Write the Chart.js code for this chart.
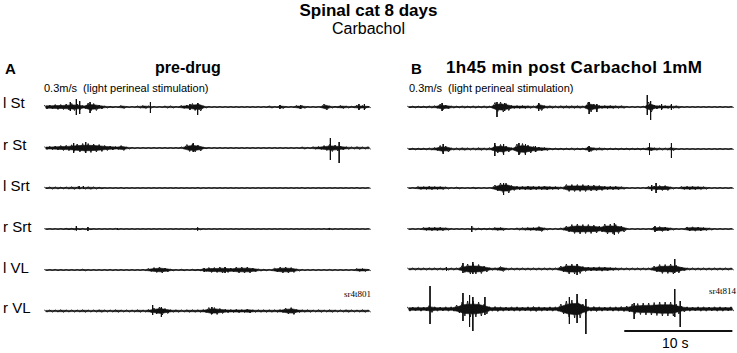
<!DOCTYPE html>
<html>
<head>
<meta charset="utf-8">
<script src="https://cdn.jsdelivr.net/npm/chart.js@4.4.0/dist/chart.umd.min.js"></script>
<style>
  body { margin: 0; background: #fff; width: 737px; height: 353px; position: relative; overflow: hidden;
         font-family: "Liberation Sans", Arial, sans-serif; color: #000; }
  .t { position: absolute; white-space: pre; line-height: 1; }
  .b { font-weight: bold; }
  canvas { position: absolute; }
</style>
</head>
<body>
<div class="t b" style="left:0;width:737px;text-align:center;top:2px;font-size:17px">Spinal cat 8 days</div>
<div class="t" style="left:0;width:737px;text-align:center;top:21px;font-size:16px">Carbachol</div>
<div class="t b" style="left:5px;top:61px;font-size:15px">A</div>
<div class="t b" style="left:155px;top:60px;font-size:16px">pre-drug</div>
<div class="t b" style="left:411px;top:61px;font-size:15px">B</div>
<div class="t b" style="left:446px;top:59px;font-size:17px;letter-spacing:0.4px">1h45 min post Carbachol 1mM</div>
<div class="t" style="left:44px;top:83px;font-size:11px">0.3m/s  (light perineal stimulation)</div>
<div class="t" style="left:409px;top:83px;font-size:11px">0.3m/s  (light perineal stimulation)</div>
<div class="t" style="left:344px;top:290px;font-size:9px;font-family:'Liberation Serif',serif">sr4t801</div>
<div class="t" style="left:709px;top:287px;font-size:9px;font-family:'Liberation Serif',serif">sr4t814</div>
<div class="t" style="left:662px;top:336px;font-size:14px">10 s</div>
<div id="labels"></div>
<canvas id="chartA" width="327" height="265" style="left:44px;top:88px"></canvas>
<canvas id="chartB" width="327" height="265" style="left:407px;top:88px"></canvas>
<script>
// channel names, top to bottom
const channels = ['l St', 'r St', 'l Srt', 'r Srt', 'l VL', 'r VL'];

// EMG envelope, half-height per 0.5 s bin (30 s per trace)
// panel A: pre-drug
const lStA = [2,2,2.5,2.5,3,3.5,3,1.5,4,3.5, 2,1,0.7,0.5,1.5,0.5,0.5,1,1.5,1, 0.5,0.5,1,1,0.5,1.5,2,3.5,4,1,
  0.5,0.5,0.5,0.5,0.5,0.5,0.5,0.5,0.5,0.5, 0.5,1,0.5,1.5,0.5,0.5,1.5,1.2,0.5,0.5, 0.5,3,1,0.7,1.5,1,0.7,1.8,1.5,0.7];
const rStA = [1.5,1.7,2,2.5,2.7,3.2,4,4.5,4.5,4, 3.5,2.5,2,1.5,2.5,1,0.6,0.5,0.5,0.5, 0.5,0.5,0.5,0.5,0.5,1,3.5,4,3,0.7,
  0.5,0.5,0.5,0.5,0.5,0.5,0.5,0.5,0.5,0.5, 0.5,0.5,0.5,0.5,0.5,0.5,0.5,1,0.6,1.2, 1.5,2.5,3.5,3,2,1.3,1,1.3,1,1.2];
const lSrtA = [0.8,1,1,0.8,1,1.2,1,1,1.2,1, 0.8,0.4,0.4,0.4,0.6,0.4,0.4,0.4,0.4,0.4, 0.4,0.4,0.4,0.4,0.4,0.4,0.4,0.4,0.6,0.4,
  0.4,0.4,0.4,0.4,0.4,0.4,0.4,0.4,0.4,0.4, 0.4,0.4,0.4,0.4,0.4,0.4,0.4,0.6,0.4,0.4, 0.4,0.4,0.4,0.4,0.4,0.4,0.4,0.6,0.4,0.4];
const rSrtA = [0.4,0.4,0.4,0.5,0.7,0.7,0.7,0.6,0.7,0.4, 0.4,0.4,0.4,0.6,0.4,0.4,0.4,0.4,0.4,0.4, 0.4,0.4,0.4,0.4,0.4,0.4,0.4,0.4,0.8,0.4,
  0.4,0.4,0.4,0.4,0.4,0.4,0.4,0.4,0.4,0.4, 0.4,0.4,0.4,0.4,0.4,0.4,0.4,0.4,0.4,0.4, 0.4,0.4,0.6,0.4,0.4,0.4,0.4,0.4,0.4,0.4];
const lVLA = [0.5,0.5,0.6,0.5,0.5,0.5,0.5,0.8,0.5,0.5, 0.5,0.5,0.6,0.5,0.5,0.5,0.5,0.5,0.6,1.5, 2.5,3,2,0.8,0.5,0.7,0.5,0.7,0.7,1.5,
  2.5,2.5,3,2.5,2,3,3,3,2,1, 0.7,0.6,2,3,3,2.5,1,0.6,0.5,0.6, 0.5,0.5,0.6,0.5,0.5,0.5,0.5,1.5,1.5,0.7];
const rVLA = [1,1,1,1.2,1,1,1,1.2,1,1, 1.2,1,1,1.2,1,1,1,1.2,1,1.5, 3,4,2.5,1.2,1.2,1,1.2,1.2,1.2,1.5,
  3.5,3.5,2.5,1.8,1.5,1.8,1.5,2,1.2,1.2, 1.2,1.2,1.2,1.5,3,3.5,1.5,1.2,1.2,1, 1.2,1,1.2,1,1,1.2,1,1,1.2,1];

// panel B: 1h45 min post Carbachol
const lStB = [0.8,0.8,0.8,0.8,1,1.2,3,2,1,0.8, 1,0.8,1,0.8,1,0.8,4.5,5,3.5,1.5, 1.5,1.5,1.2,1,3.5,1.2,1.2,1,1.2,1.2,
  1.2,1.2,1,5,3,1.5,1.5,1.5,1.2,1.2, 0.6,0.6,0.6,0.8,5,2,1.5,1.5,1.2,1.2, 0.5,0.5,0.5,0.5,0.5,0.5,0.5,0.5,0.5,0.5];
const rStB = [0.8,0.8,0.8,0.8,1,1.5,3.5,3,1,1, 1.2,1,1,1.2,1,1.2,4,4.5,3,1.2, 5,5.5,4,2.5,2,1.5,0.8,0.8,0.8,0.8,
  1,0.8,0.8,2.5,1.2,1.2,0.8,0.8,0.8,0.8, 0.8,0.8,0.8,0.8,2,1.2,1,1,1.5,0.6, 0.5,0.5,0.5,0.5,0.5,0.5,0.5,0.5,0.5,0.5];
const lSrtB = [0.5,0.5,1.5,1.5,1.8,1.5,1.5,1,0.5,0.8, 0.5,0.5,0.8,0.5,0.5,0.5,3,5,5,2.5, 1.8,1.8,2,1.8,1.8,2,1.5,1.5,1,3.5,
  3.5,3.5,3.5,3,3,2.5,1.8,1.8,1.8,1.2, 0.5,0.5,0.5,0.5,1.5,2,2.5,2.5,1,0.5, 1.5,1.8,1.8,1.5,1.2,0.5,0.5,0.5,0.5,0.5];
const rSrtB = [0.5,0.5,0.5,1.5,1.8,1.8,1.8,1.2,0.5,0.5, 0.5,0.5,1,0.8,0.8,0.8,1.5,1.5,0.5,0.5, 1,1.2,1.5,1.5,2.5,1,0.6,0.6,1,3,
  4.5,5,4.5,4.5,4,3,5,5,4.5,3, 0.5,0.5,0.5,0.5,0.5,2,2.5,2,1,0.5, 0.5,2,2.2,2,1.5,1,0.5,0.5,0.5,0.5];
const lVLB = [1,1,1,1,1,1,1,1,1,1, 3.5,5,5,4.5,3,1.2,1.2,2.5,1,1, 1,1,1,1,1,1,1,1,3,5,
  5,4.5,2.5,2,2,2.2,2,1.5,1.2,1, 1,1,1,1,1,3,4.5,4.5,5,4, 2,1,1,1,1,1,1,1,1,1];
const rVLB = [2.2,2,2.2,2,3.5,2.2,2,2.2,2.2,4, 7,8,8,7,5,2.2,2.5,2.2,2,2.2, 2.2,2,2.2,2.5,2.2,2,2.2,2.2,5,8,
  9,9,5,2.2,2.5,2.2,2,2.2,2.2,2.5, 3,5,5.5,6,6,6.5,7,7,7,5, 3,2.2,2,2.2,2.2,2,2.2,2.2,2,2.2];

// single large spikes: [time s, up, down]
const spkLStA = [[2.5,5,4],[3.05,8,8],[3.35,6,7],[4.3,5,6],[9.8,5,6],[13.4,3,3],[14.1,4,8],[21.6,2,2],[23.5,2,2],[28.8,3,3],[29.3,3,3]];
const spkRStA = [[2.8,5,5],[3.9,6,5],[13.7,5,4],[26.2,10,12],[27,6,15]];
const spkLSrtA = [[3.3,2,1],[3.7,2,1]];
const spkRSrtA = [[3.05,3,1.5],[4.1,2,2],[6.8,1,1],[14.1,1.5,1.5],[26.1,1,1]];
const spkLVLA = [[14.7,2,2],[16.6,3,3]];
const spkRVLA = [[10,6,4],[10.8,4,6],[15.4,4,3]];
const spkLStB = [[3.3,4,4],[8.3,5,10],[9,4,4],[12.1,4,4],[16.7,5,7],[17.4,3,5],[22,12,8],[22.3,6,13],[23.3,3,3],[24.2,3,3]];
const spkRStB = [[3.4,5,5],[8.1,6,7],[8.9,5,6],[10.3,6,6],[10.9,5,6],[11.8,3,3],[16.7,3,3],[22.2,6,6],[24.2,6,9]];
const spkLSrtB = [[8.9,5,7],[22.4,3,3],[22.8,5,5]];
const spkRSrtB = [[6,3,3],[19,6,6],[22.7,3,3]];
const spkLVLB = [[3.7,2,2],[5.2,6,4],[6.1,7,5],[15.6,5,6],[24.5,10,4]];
const spkRVLB = [[2.2,23,15],[5.2,16,12],[5.8,14,18],[6.1,12,22],[7.2,12,6],[14.9,12,15],[15.6,15,14],[16.4,10,25],[20.8,6,10],[24.5,20,8],[25,8,18]];

// 10 s scale bar (panel B)
const scaleBar = [19.9, 29.75];

const BIN = 0.5;
const CORE = 0.6; // share of the envelope drawn solid; the rest shows as ragged zigzag
const laneA = [-19, -60, -100, -141, -182, -223];
const laneB = [-19, -61, -100, -141, -181, -221];
const labelY = [95, 137, 178, 219, 260, 300];

channels.forEach((name, i) => {
  const d = document.createElement('div');
  d.className = 't';
  d.style.cssText = 'left:3px;top:' + labelY[i] + 'px;font-size:15px';
  d.textContent = name;
  document.getElementById('labels').appendChild(d);
});

// zigzag: top of each bin, then bottom a quarter-bin later
function zigzag(amps, base) {
  const pts = [];
  amps.forEach((a, i) => {
    pts.push({ x: i * BIN + 0.125, y: base + a });
    pts.push({ x: i * BIN + 0.375, y: base - a });
  });
  return pts;
}

function envelope(amps, base, sign) {
  return amps.map((a, i) => ({ x: i * BIN + BIN / 2, y: base + sign * a * CORE }));
}

function spikes(list, base) {
  const pts = [];
  list.forEach(([t, up, dn]) => {
    pts.push({ x: t, y: base + up }, { x: t, y: base - dn }, { x: t, y: null });
  });
  return pts;
}

function makeChart(id, envs, spks, lanes, extra) {
  const datasets = [];
  envs.forEach((amps, i) => {
    datasets.push({ data: envelope(amps, lanes[i], 1), borderWidth: 0.6, fill: false });
    datasets.push({ data: envelope(amps, lanes[i], -1), borderWidth: 0.6, fill: '-1', backgroundColor: '#111' });
    datasets.push({ data: zigzag(amps, lanes[i]), borderWidth: 0.9, fill: false });
    datasets.push({ data: spikes(spks[i], lanes[i]), borderWidth: 1, fill: false });
  });
  (extra || []).forEach(ds => datasets.push(ds));
  datasets.forEach(ds => Object.assign(ds, {
    borderColor: '#111', pointRadius: 0, tension: 0, spanGaps: false,
    borderJoinStyle: 'bevel', clip: 6
  }, ds));
  new Chart(document.getElementById(id), {
    type: 'line',
    data: { datasets },
    options: {
      responsive: false,
      animation: false,
      events: [],
      layout: { padding: 0 },
      plugins: { legend: { display: false }, tooltip: { enabled: false } },
      scales: {
        x: { type: 'linear', min: 0.1, max: 29.9, display: false },
        y: { min: -265, max: 0, display: false }
      }
    }
  });
}

makeChart('chartA', [lStA, rStA, lSrtA, rSrtA, lVLA, rVLA],
  [spkLStA, spkRStA, spkLSrtA, spkRSrtA, spkLVLA, spkRVLA], laneA);

makeChart('chartB', [lStB, rStB, lSrtB, rSrtB, lVLB, rVLB],
  [spkLStB, spkRStB, spkLSrtB, spkRSrtB, spkLVLB, spkRVLB], laneB,
  [{ data: [{ x: scaleBar[0], y: -243 }, { x: scaleBar[1], y: -243 }], borderWidth: 2, borderColor: '#000', fill: false }]);
</script>
</body>
</html>
